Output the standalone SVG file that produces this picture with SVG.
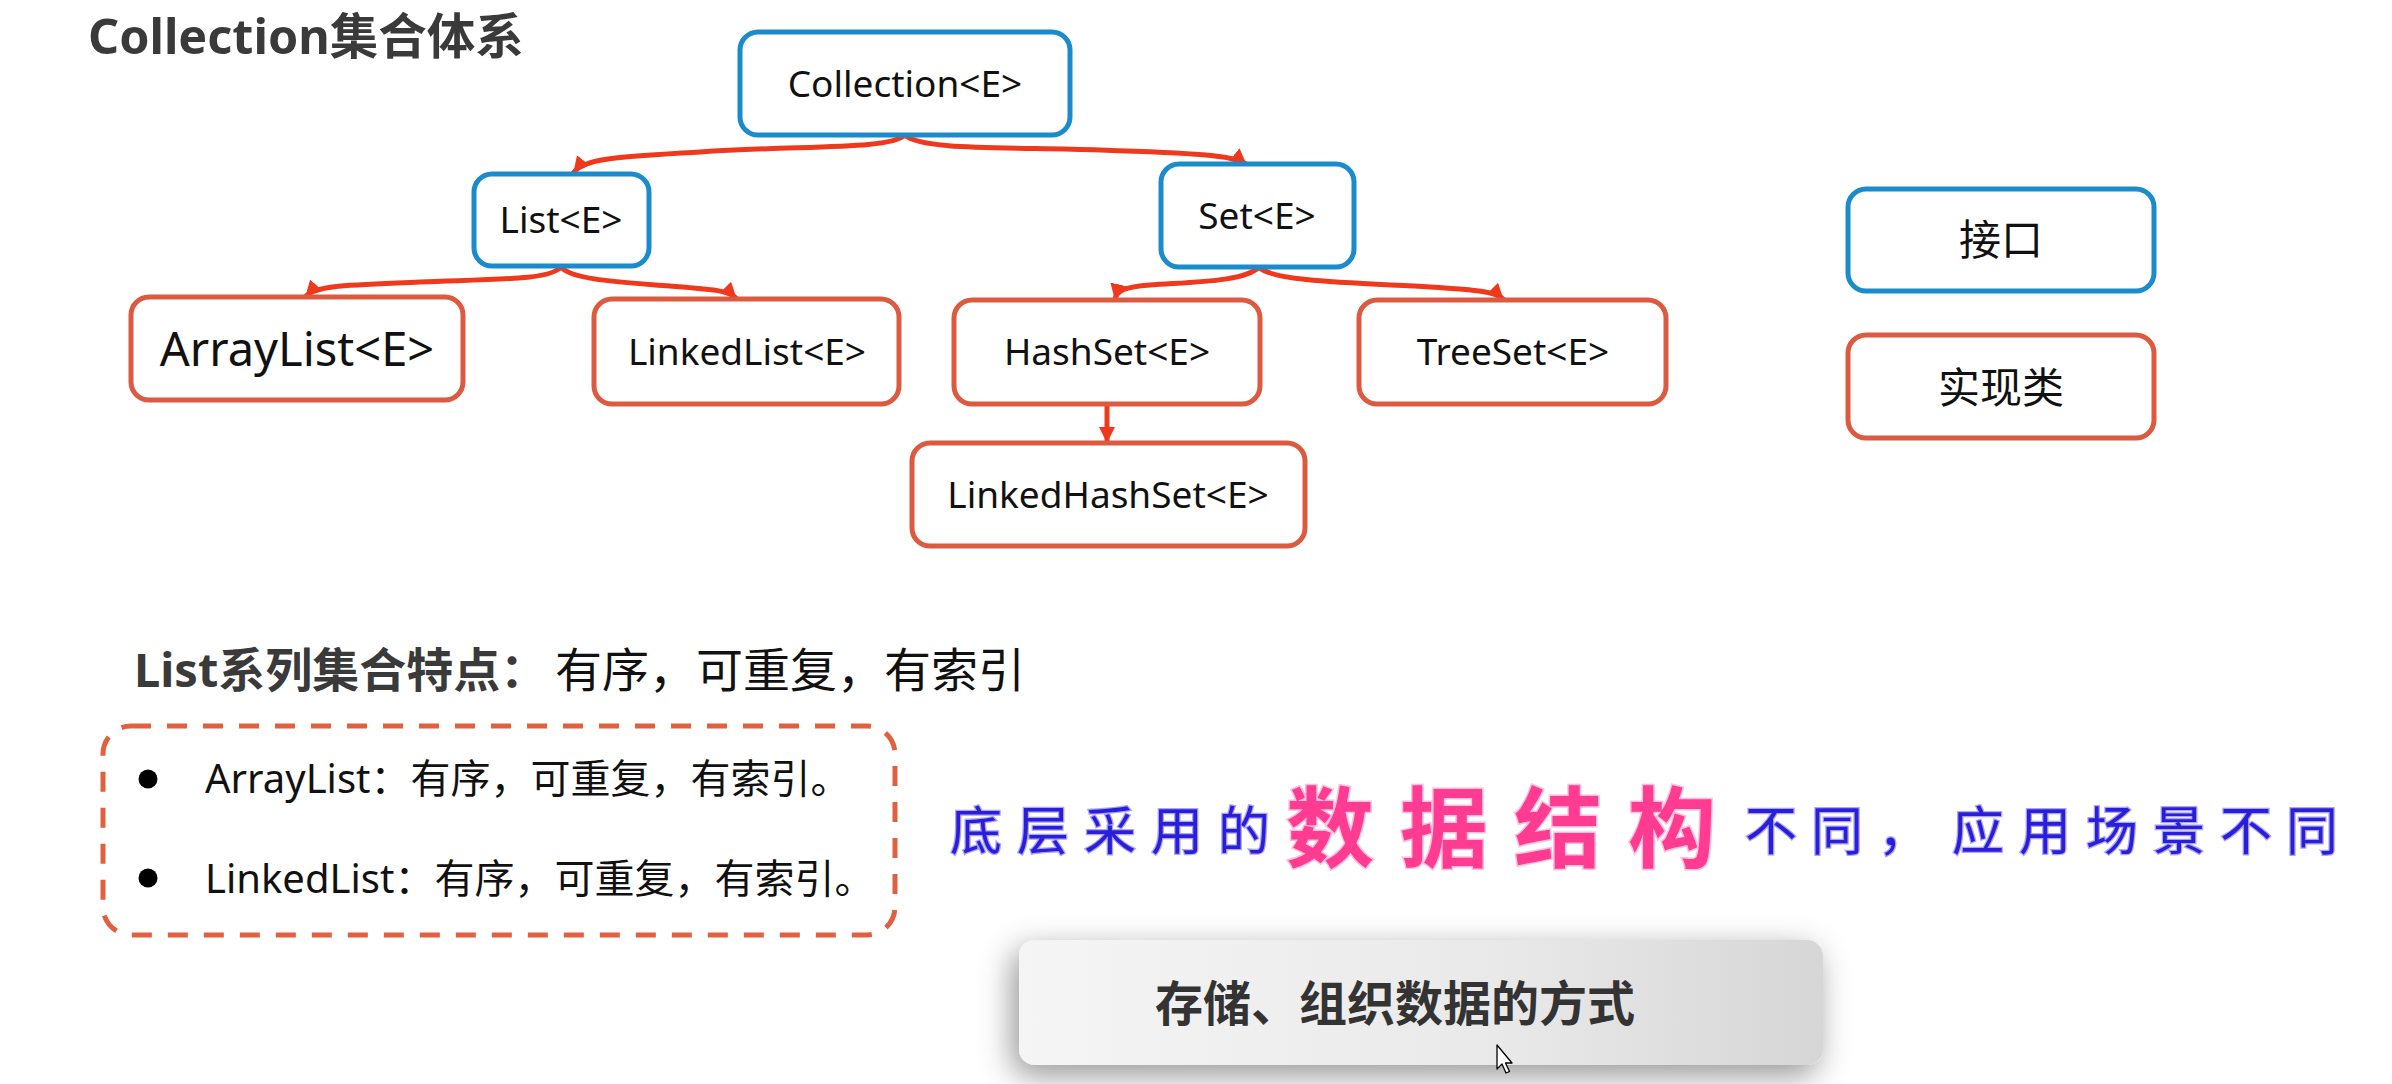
<svg xmlns="http://www.w3.org/2000/svg" width="2392" height="1084" viewBox="0 0 2392 1084">
  <style>
    .lat { font-family: "Noto Sans", "Noto Sans CJK SC", sans-serif; }
    .cjk { font-family: "Noto Sans CJK SC", "Noto Sans", sans-serif; }
    .iface { fill: #ffffff; stroke: #1b8ccb; stroke-width: 5; }
    .impl { fill: #ffffff; stroke: #dc5a40; stroke-width: 5; }
    .nt { font-size: 37px; fill: #111111; text-anchor: middle; }
    .nt-lg { font-size: 47px; }
    .nt-key { font-size: 42px; }
    .edge { fill: none; stroke: #f0391c; stroke-width: 5; stroke-linecap: round; marker-end: url(#head); }
    .hand { font-family: "Noto Sans CJK SC", sans-serif; font-size: 52px; font-weight: 400; fill: #2a1ed8; stroke: #a8a4ff; stroke-width: 2.5; paint-order: stroke; }
    .big { font-family: "Noto Sans CJK SC", sans-serif; font-size: 88px; font-weight: 700; fill: #ff3b92; stroke: #ffc0dc; stroke-width: 3; paint-order: stroke; }
  </style>
  <defs>
    <marker id="head" markerUnits="userSpaceOnUse" markerWidth="20" markerHeight="20" refX="15" refY="8" orient="auto">
      <path d="M0,0 L16,8 L0,16 Z" fill="#f0391c"/>
    </marker>
    <linearGradient id="keyFill" x1="0" y1="0" x2="1" y2="0">
      <stop offset="0" stop-color="#f5f5f5"/>
      <stop offset="0.6" stop-color="#e9e9e9"/>
      <stop offset="1" stop-color="#d6d6d6"/>
    </linearGradient>
    <filter id="soft" x="-20%" y="-50%" width="140%" height="200%">
      <feDropShadow dx="-6" dy="10" stdDeviation="16" flood-color="#000000" flood-opacity="0.42"/>
    </filter>
  </defs>

  <rect width="2392" height="1084" fill="#ffffff"/>

  <!-- heading -->
  <text class="lat" x="88" y="54" font-size="48.5" font-weight="700" fill="#3a3a3a">Collection集合体系</text>

  <!-- hierarchy edges -->
  <g id="connectors">
    <path class="edge" d="M905,135 C890,150 800,145 700,152 C620,157 585,158 574,172"/>
    <path class="edge" d="M905,135 C920,150 1000,147 1100,150 C1190,153 1235,155 1246,164"/>
    <path class="edge" d="M561,267 C550,280 500,279 420,282 C350,285 316,285 306,296"/>
    <path class="edge" d="M561,267 C572,280 620,282 670,286 C710,289 728,290 736,298"/>
    <path class="edge" d="M1259,267 C1245,282 1190,282 1150,285 C1125,287 1117,290 1115,299"/>
    <path class="edge" d="M1259,267 C1272,282 1360,283 1430,287 C1480,290 1496,292 1503,299"/>
    <path class="edge" d="M1107,405 L1107,442"/>
  </g>

  <!-- interfaces -->
  <g id="collection">
    <rect class="iface" x="740" y="32" width="330" height="103" rx="18"/>
    <text class="lat nt" x="905" y="97">Collection&lt;E&gt;</text>
  </g>
  <g id="list">
    <rect class="iface" x="474" y="174" width="175" height="92" rx="18"/>
    <text class="lat nt" x="561" y="233">List&lt;E&gt;</text>
  </g>
  <g id="set">
    <rect class="iface" x="1161" y="164" width="193" height="103" rx="18"/>
    <text class="lat nt" x="1257" y="229">Set&lt;E&gt;</text>
  </g>

  <!-- implementation classes -->
  <g id="arraylist">
    <rect class="impl" x="131" y="297" width="332" height="103" rx="18"/>
    <text class="lat nt nt-lg" x="297" y="366">ArrayList&lt;E&gt;</text>
  </g>
  <g id="linkedlist">
    <rect class="impl" x="594" y="299" width="305" height="105" rx="18"/>
    <text class="lat nt" x="747" y="365">LinkedList&lt;E&gt;</text>
  </g>
  <g id="hashset">
    <rect class="impl" x="954" y="300" width="306" height="104" rx="18"/>
    <text class="lat nt" x="1107" y="365">HashSet&lt;E&gt;</text>
  </g>
  <g id="treeset">
    <rect class="impl" x="1359" y="300" width="307" height="104" rx="18"/>
    <text class="lat nt" x="1513" y="365">TreeSet&lt;E&gt;</text>
  </g>
  <g id="linkedhashset">
    <rect class="impl" x="912" y="443" width="393" height="103" rx="18"/>
    <text class="lat nt" x="1108" y="508">LinkedHashSet&lt;E&gt;</text>
  </g>

  <!-- legend -->
  <g id="legend-interface">
    <rect class="iface" x="1848" y="189" width="306" height="102" rx="18"/>
    <text class="cjk nt nt-key" x="2001" y="255">接口</text>
  </g>
  <g id="legend-impl">
    <rect class="impl" x="1848" y="335" width="306" height="103" rx="18"/>
    <text class="cjk nt nt-key" x="2001" y="403">实现类</text>
  </g>

  <!-- list characteristics -->
  <text class="lat" x="134" y="687" font-size="47"><tspan font-weight="700" fill="#3a3a3a">List系列集合特点：</tspan><tspan x="555" fill="#111111">有序，可重复，有索引</tspan></text>
  <rect x="103" y="726" width="792" height="209" rx="28" fill="none" stroke="#e0603f" stroke-width="5" stroke-dasharray="20 16"/>
  <circle cx="148" cy="779" r="9.5" fill="#000000"/>
  <circle cx="148" cy="878" r="9.5" fill="#000000"/>
  <text class="lat" x="205" y="793" font-size="40" fill="#111111">ArrayList：有序，可重复，有索引。</text>
  <text class="lat" x="205" y="893" font-size="40" fill="#111111">LinkedList：有序，可重复，有索引。</text>

  <!-- annotation -->
  <text class="hand" x="950 1017 1084 1151 1218" y="850">底层采用的</text>
  <text class="big" x="1286 1400 1514 1628" y="860">数据结构</text>
  <text class="hand" x="1745 1811 1878 1952 2019 2086 2153 2220 2286" y="850">不同，应用场景不同</text>

  <!-- definition card -->
  <rect x="1019" y="940" width="804" height="125" rx="16" fill="url(#keyFill)" filter="url(#soft)"/>
  <text class="cjk" x="1155" y="1021" font-size="48" font-weight="700" fill="#333333">存储、组织数据的方式</text>

  <!-- pointer -->
  <path d="M1497,1045 L1497,1069 L1502,1064 L1506,1073 L1509.5,1071.5 L1505.5,1063 L1512,1063 Z" fill="#ffffff" stroke="#000000" stroke-width="1.3" stroke-linejoin="round"/>
</svg>
